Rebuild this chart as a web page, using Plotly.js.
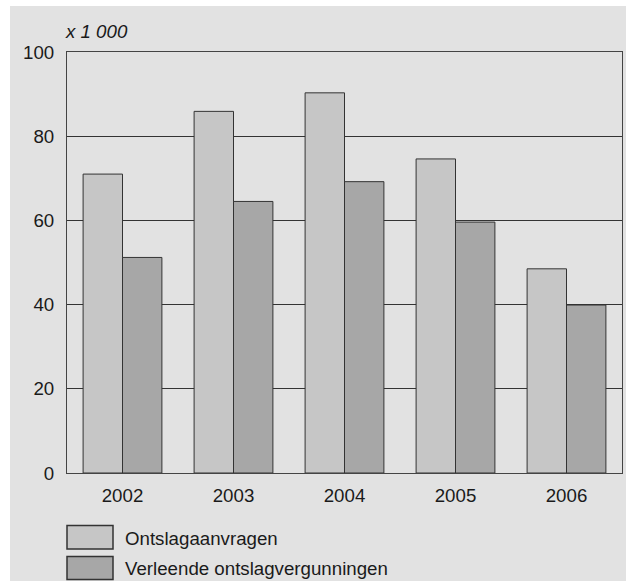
<!DOCTYPE html>
<html><head><meta charset="utf-8">
<script src="https://cdn.plot.ly/plotly-3.0.1.min.js"></script>
<style>html,body{margin:0;padding:0;background:#fff;}#chart{width:626px;height:581px;}</style>
</head><body><div id="chart"></div>
<script>
var years = ['2002','2003','2004','2005','2006'];
var ontslagaanvragen = [71, 85.9, 90.3, 74.6, 48.5];
var verleend = [51.2, 64.5, 69.2, 59.6, 39.9];
var seriesNames = ['Ontslagaanvragen', 'Verleende ontslagvergunningen'];
var seriesColors = ['#c6c6c6', '#a7a7a7'];
var yTicks = [0, 20, 40, 60, 80, 100];
var unitLabel = 'x 1 000';

var font = {family: 'Liberation Sans, Arial, sans-serif', size: 18.7, color: '#1a1a1a'};
var traces = [ontslagaanvragen, verleend].map(function(v, i){
  return {type:'bar', x: years, y: v, name: seriesNames[i],
    marker:{color: seriesColors[i], line:{color:'#333', width:1}}, showlegend:false, hoverinfo:'skip'};
});

var plotW = 626 - 67 - 4, plotH = 581 - 52 - 108;
function px(x){ return (x - 67) / plotW; }
function py(y){ return (473 - y) / plotH; }

var shapes = [
  {type:'rect', xref:'paper', yref:'paper', x0:px(10), x1:px(640), y0:py(600), y1:py(6), fillcolor:'#e2e2e2', line:{width:0}, layer:'below'},
  {type:'rect', xref:'paper', yref:'paper', x0:px(67), x1:px(113), y0:py(549), y1:py(525.5), fillcolor:seriesColors[0], line:{color:'#333', width:1.5}},
  {type:'rect', xref:'paper', yref:'paper', x0:px(67), x1:px(113), y0:py(579.5), y1:py(556.5), fillcolor:seriesColors[1], line:{color:'#333', width:1.5}}
];
var annotations = [
  {xref:'paper', yref:'paper', x:px(63), y:py(31), xanchor:'left', yanchor:'middle', text:'<i>'+unitLabel+'</i>', showarrow:false, font:font},
  {xref:'paper', yref:'paper', x:px(123), y:py(538), xanchor:'left', yanchor:'middle', text:seriesNames[0], showarrow:false, font:font},
  {xref:'paper', yref:'paper', x:px(123), y:py(568), xanchor:'left', yanchor:'middle', text:seriesNames[1], showarrow:false, font:font}
];

var layout = {
  width:626, height:581,
  margin:{l:67, r:4, t:52, b:108, pad:0},
  paper_bgcolor:'#ffffff', plot_bgcolor:'#ffffff',
  font: font,
  barmode:'group', bargap:0.29, bargroupgap:0,
  xaxis:{showgrid:false, showline:true, mirror:true, linecolor:'#444', linewidth:1,
    ticks:'outside', ticklen:6, tickcolor:'rgba(0,0,0,0)', tickfont:font, fixedrange:true},
  yaxis:{range:[0,100], tickvals:yTicks, showgrid:true, gridcolor:'#333', gridwidth:1,
    zeroline:false, showline:true, mirror:true, linecolor:'#444', linewidth:1,
    ticks:'outside', ticklen:8, tickcolor:'rgba(0,0,0,0)', tickfont:font, fixedrange:true},
  shapes: shapes, annotations: annotations
};
Plotly.newPlot('chart', traces, layout, {staticPlot:true, displayModeBar:false});
</script></body></html>
